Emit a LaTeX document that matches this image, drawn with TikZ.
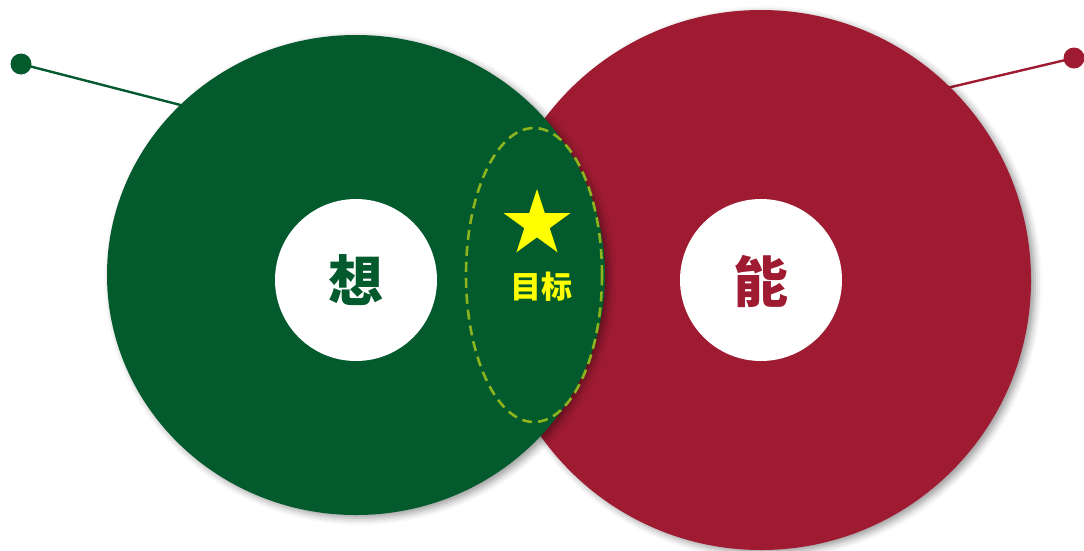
\documentclass[tikz,border=0pt]{standalone}
\usepackage{fontspec}
\newfontfamily\cjk{Noto Sans CJK SC}
\usetikzlibrary{shapes.geometric,shadows.blur}
\definecolor{dgreen}{RGB}{3,90,45}
\definecolor{dred}{RGB}{158,27,50}
\definecolor{olivedash}{RGB}{140,180,30}
\definecolor{starY}{RGB}{255,255,0}
\tikzset{
  dot/.style={circle,inner sep=0pt,minimum size=21pt},
  pointer/.style={line width=2.4pt},
  bigshadow/.style={blur shadow={shadow xshift=4pt,shadow yshift=-3pt,shadow blur radius=7pt,shadow opacity=40}},
  hole/.style={circle,fill=white,inner sep=0pt,minimum size=162pt},
  bigchar/.style={font=\cjk\bfseries\fontsize{55}{60}\selectfont},
}
\begin{document}
\begin{tikzpicture}[x=1pt,y=-1pt]
\useasboundingbox (0,0) rectangle (1084,550);
% pointer lines and dots
\node[dot,fill=dgreen] (gd) at (21,64) {};
\coordinate (ge) at (200,110);
\draw[pointer,dgreen] (gd.center) -- (ge);
\node[dot,fill=dred] (rd) at (1074,58) {};
\coordinate (re) at (930,92);
\draw[pointer,dred] (rd.center) -- (re);
% red circle
\node[circle,fill=dred,inner sep=0pt,minimum size=540pt,bigshadow] (R) at (761,280) {};
% green circle
\node[ellipse,fill=dgreen,inner sep=0pt,minimum width=498pt,minimum height=480pt,bigshadow] (G) at (356,275) {};
% white centers
\node[hole] (gw) at (356,280) {};
\node[hole] (rw) at (761,280) {};
\node[bigchar,text=dgreen] (xiang) at (356,280) {想};
\node[bigchar,text=dred] (neng) at (761,281) {能};
% dashed target ellipse
\node[ellipse,draw=olivedash,line width=2.6pt,dash pattern=on 10pt off 6pt,inner sep=0pt,minimum width=136pt,minimum height=294pt] (T) at (534,275) {};
\node[star,star points=5,star point ratio=2.618,fill=starY,inner sep=0pt,minimum size=70pt] (S) at (537,224) {};
\node[font=\cjk\bfseries\fontsize{31}{34}\selectfont,text=starY] (goal) at (541,287) {目标};
\end{tikzpicture}
\end{document}
